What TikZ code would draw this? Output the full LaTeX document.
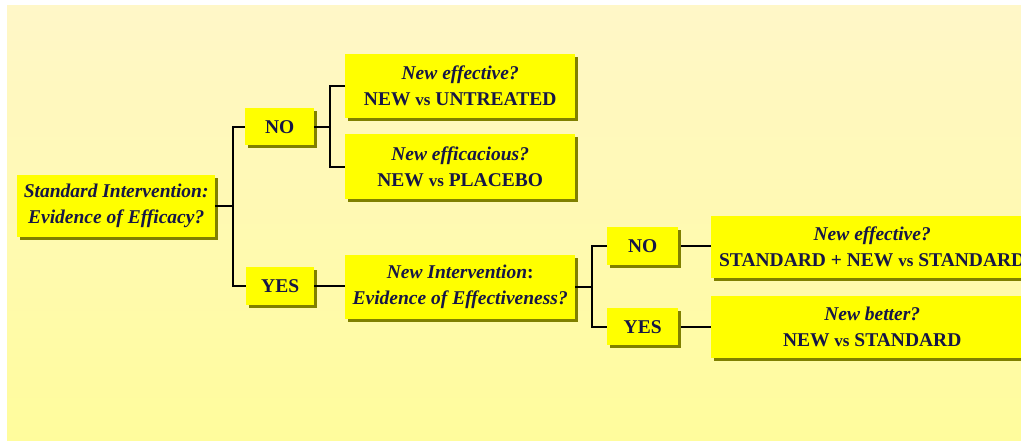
\documentclass[tikz,border=0pt]{standalone}
\usepackage{fontspec}
\setmainfont{Liberation Serif}
\usetikzlibrary{shadows,calc}
\definecolor{bgtop}{RGB}{255,247,200}
\definecolor{bgbot}{RGB}{255,252,156}
\definecolor{boxfill}{RGB}{255,255,0}
\definecolor{boxshade}{RGB}{128,128,0}
\definecolor{ink}{RGB}{22,22,70}
\tikzset{
  ybox/.style={anchor=north west, fill=boxfill, inner sep=0pt, align=center,
    text=ink, font=\fontsize{19.5}{26}\selectfont\bfseries,
    drop shadow={shadow xshift=3pt, shadow yshift=-3pt, fill=boxshade, opacity=1}},
  conn/.style={draw=black, line width=1.8pt}
}
\newcommand{\qline}[1]{{\itshape #1}}
\newcommand{\vsword}{{\fontsize{17}{26}\selectfont vs}}
\begin{document}
\begin{tikzpicture}[x=1pt,y=-1pt]
\useasboundingbox (0,0) rectangle (1021,446);
\clip (0,0) rectangle (1021,446);
\shade[top color=bgtop, bottom color=bgbot] (7,6) rectangle (1021,441);

\node[ybox, minimum width=198pt, minimum height=62pt] (std) at (17,175)
  {\qline{Standard Intervention:}\\\qline{Evidence of Efficacy?}};
\node[ybox, minimum width=69pt, minimum height=37pt] (no1) at (245,108) {NO};
\node[ybox, minimum width=68pt, minimum height=38pt] (yes1) at (246,267) {YES};
\node[ybox, minimum width=230pt, minimum height=64pt] (eff1) at (345,54)
  {\qline{New effective?}\\NEW \vsword{} UNTREATED};
\node[ybox, minimum width=230pt, minimum height=65pt] (effc) at (345,134)
  {\qline{New efficacious?}\\NEW \vsword{} PLACEBO};
\node[ybox, minimum width=230pt, minimum height=64pt] (newint) at (345,255)
  {\qline{New Intervention}:\\\qline{Evidence of Effectiveness?}};
\node[ybox, minimum width=71pt, minimum height=38pt] (no2) at (607,227) {NO};
\node[ybox, minimum width=71pt, minimum height=37pt] (yes2) at (607,308) {YES};
\node[ybox, minimum width=322pt, minimum height=62pt] (eff2) at (711,216)
  {\qline{New effective?}\\STANDARD + NEW \vsword{} STANDARD};
\node[ybox, minimum width=322pt, minimum height=62pt] (better) at (711,296)
  {\qline{New better?}\\NEW \vsword{} STANDARD};

\coordinate (j1) at (233,207);
\coordinate (j2) at (330,127);
\coordinate (j3) at (592,287);

\draw[conn] (std.east) -- (std.east -| j1);
\draw[conn] (no1.west) -| (j1) |- (yes1.west);
\draw[conn] (no1.east) -- (no1.east -| j2);
\draw[conn] (eff1.west) -| (j2) |- (effc.west);
\draw[conn] (yes1.east) -- (yes1.east -| newint.west);
\draw[conn] (newint.east) -- (newint.east -| j3);
\draw[conn] (no2.west) -| (j3) |- (yes2.west);
\draw[conn] ([xshift=3pt]no2.east) -- (no2.east -| eff2.west);
\draw[conn] ([xshift=3pt]yes2.east) -- (yes2.east -| better.west);
\end{tikzpicture}
\end{document}
